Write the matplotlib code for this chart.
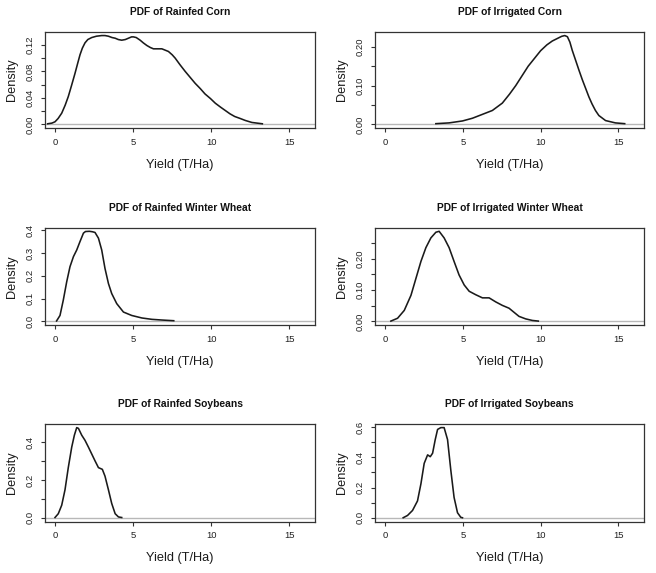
import matplotlib
matplotlib.use("Agg")
import matplotlib.pyplot as plt
from matplotlib import font_manager
from matplotlib.transforms import ScaledTranslation
from matplotlib.ticker import FixedLocator, FuncFormatter

# ---------------- data ----------------
titles = ["PDF of Rainfed Corn", "PDF of Irrigated Corn",
          "PDF of Rainfed Winter Wheat", "PDF of Irrigated Winter Wheat",
          "PDF of Rainfed Soybeans", "PDF of Irrigated Soybeans"]

rainfed_corn_x = [-0.47, -0.2, 0.0, 0.2, 0.43, 0.65, 0.85, 1.05, 1.28, 1.45, 1.6, 1.75, 1.92, 2.1, 2.35,
                  2.65, 2.99, 3.2, 3.42, 3.65, 3.85, 4.05, 4.27, 4.5, 4.7, 4.9, 5.02, 5.2, 5.45, 5.65,
                  5.88, 6.1, 6.3, 6.55, 6.84, 7.05, 7.26, 7.5, 7.69, 8.0, 8.33, 8.65, 8.97, 9.3, 9.6,
                  9.95, 10.26, 10.6, 10.9, 11.2, 11.5, 11.85, 12.18, 12.6, 13.27]
rainfed_corn_y = [0.001, 0.002, 0.004, 0.009, 0.017, 0.029, 0.042, 0.058, 0.077, 0.092, 0.105, 0.115,
                  0.123, 0.128, 0.131, 0.133, 0.134, 0.134, 0.133, 0.131, 0.130, 0.128, 0.127, 0.128,
                  0.130, 0.132, 0.132, 0.131, 0.127, 0.123, 0.119, 0.116, 0.114, 0.114, 0.114, 0.112,
                  0.110, 0.105, 0.100, 0.090, 0.080, 0.071, 0.062, 0.054, 0.046, 0.039, 0.032, 0.026,
                  0.021, 0.016, 0.012, 0.009, 0.006, 0.003, 0.001]

irrigated_corn_x = [3.27, 4.12, 4.98, 5.62, 6.26, 6.9, 7.54, 8.0, 8.4, 8.8, 9.2, 9.6, 10.0, 10.4, 10.75,
                    11.1, 11.35, 11.55, 11.72, 11.88, 12.03, 12.25, 12.46, 12.68, 12.9, 13.1, 13.3,
                    13.52, 13.74, 14.17, 14.8, 15.4]
irrigated_corn_y = [0.002, 0.004, 0.009, 0.016, 0.026, 0.036, 0.055, 0.078, 0.100, 0.125, 0.150, 0.170,
                    0.190, 0.205, 0.215, 0.222, 0.227, 0.229, 0.226, 0.212, 0.191, 0.165, 0.140, 0.115,
                    0.092, 0.071, 0.053, 0.036, 0.023, 0.010, 0.004, 0.002]

rainfed_wheat_x = [0.1, 0.32, 0.53, 0.75, 0.96, 1.18, 1.39, 1.6, 1.82, 1.95, 2.2, 2.4, 2.56, 2.78, 2.99,
                   3.2, 3.42, 3.63, 3.95, 4.38, 4.91, 5.56, 6.2, 6.84, 7.6]
rainfed_wheat_y = [0.002, 0.026, 0.093, 0.174, 0.240, 0.284, 0.313, 0.350, 0.387, 0.394, 0.395, 0.393,
                   0.390, 0.365, 0.313, 0.232, 0.166, 0.122, 0.078, 0.041, 0.026, 0.015, 0.009, 0.006,
                   0.003]

irrigated_wheat_x = [0.38, 0.81, 1.24, 1.67, 1.99, 2.31, 2.63, 2.95, 3.27, 3.48, 3.8, 4.12, 4.44, 4.76,
                     5.09, 5.41, 5.83, 6.26, 6.69, 7.12, 7.54, 7.97, 8.29, 8.61, 9.04, 9.47, 9.85]
irrigated_wheat_y = [0.001, 0.010, 0.035, 0.083, 0.137, 0.191, 0.235, 0.266, 0.284, 0.287, 0.266, 0.235,
                     0.191, 0.148, 0.116, 0.096, 0.085, 0.075, 0.075, 0.062, 0.051, 0.042, 0.029, 0.016,
                     0.008, 0.003, 0.001]

rainfed_soy_x = [0.0, 0.21, 0.43, 0.64, 0.85, 1.07, 1.24, 1.39, 1.5, 1.71, 1.92, 2.14, 2.35, 2.56, 2.78,
                 3.03, 3.2, 3.42, 3.63, 3.85, 4.06, 4.27]
rainfed_soy_y = [0.002, 0.022, 0.067, 0.148, 0.265, 0.373, 0.436, 0.476, 0.472, 0.436, 0.409, 0.373,
                 0.337, 0.301, 0.265, 0.256, 0.220, 0.148, 0.076, 0.022, 0.005, 0.002]

irrigated_soy_x = [1.17, 1.45, 1.77, 2.09, 2.31, 2.52, 2.74, 2.91, 3.06, 3.23, 3.38, 3.59, 3.8, 4.02,
                   4.23, 4.44, 4.66, 4.87, 4.98]
irrigated_soy_y = [0.001, 0.016, 0.049, 0.112, 0.225, 0.360, 0.416, 0.404, 0.427, 0.517, 0.584, 0.596,
                   0.596, 0.517, 0.315, 0.135, 0.034, 0.004, 0.001]

series = [(rainfed_corn_x, rainfed_corn_y), (irrigated_corn_x, irrigated_corn_y),
          (rainfed_wheat_x, rainfed_wheat_y), (irrigated_wheat_x, irrigated_wheat_y),
          (rainfed_soy_x, rainfed_soy_y), (irrigated_soy_x, irrigated_soy_y)]

x_ticks = [0, 5, 10, 15]
x_range = (0, 16)
# (tick step, label step, decimals) of the y axes
y_tick_specs = [(0.02, 0.04, 2), (0.05, 0.10, 2), (0.1, 0.1, 1),
                (0.05, 0.10, 2), (0.1, 0.2, 1), (0.1, 0.2, 1)]
x_label = "Yield (T/Ha)"
y_label = "Density"

# ---------------- fonts ----------------
names = {f.name for f in font_manager.fontManager.ttflist}
if "Liberation Sans Narrow" in names:
    title_font = dict(family="Liberation Sans Narrow", fontsize=8.6, fontweight="bold")
else:
    title_font = dict(family="Liberation Sans", fontsize=7.4, fontweight="bold")
base_family = "Liberation Sans" if "Liberation Sans" in names else "DejaVu Sans"

# ---------------- figure ----------------
W, H = 656, 573
fig = plt.figure(figsize=(W / 100, H / 100), dpi=100)

cols = [(45, 315), (375, 644)]
rows = [(32, 128), (227.7, 325), (424, 521.5)]

for i, ((xs, ys), title, spec) in enumerate(zip(series, titles, y_tick_specs)):
    r, c = divmod(i, 2)
    l, rr = cols[c]
    t, b = rows[r]
    ax = fig.add_axes([l / W, 1 - b / H, (rr - l) / W, (b - t) / H])

    ax.axhline(0, color="#b8b8b8", lw=1.0, zorder=1)
    ax.plot(xs, ys, color="#1a1a1a", lw=1.15, zorder=2)

    pad = 0.04 * (x_range[1] - x_range[0])
    ax.set_xlim(x_range[0] - pad, x_range[1] + pad)
    ymax = max(ys)
    ytop = 1.04 * ymax
    ax.set_ylim(-0.04 * ymax, ytop)

    step, lstep, dec = spec
    n = int(ytop / step + 1e-9)
    ticks = [k * step for k in range(n + 1)]
    ax.yaxis.set_major_locator(FixedLocator(ticks))
    ratio = int(round(lstep / step))

    def fmt(v, pos, dec=dec, step=step, ratio=ratio):
        k = int(round(v / step))
        return f"{v:.{dec}f}" if k % ratio == 0 else ""
    ax.yaxis.set_major_formatter(FuncFormatter(fmt))
    ax.xaxis.set_major_locator(FixedLocator(x_ticks))

    for s in ax.spines.values():
        s.set_color("#333333")
        s.set_linewidth(0.9)
    ax.tick_params(axis="both", length=3.2, width=0.8, color="#333333",
                   labelsize=6.8, labelcolor="#222222", pad=4.0)
    ax.tick_params(axis="y", labelrotation=90)
    for lab in ax.get_yticklabels():
        lab.set_va("center")
        lab.set_family(base_family)
    for lab in ax.get_xticklabels():
        lab.set_family(base_family)

    ax.set_xlabel(x_label, family=base_family, fontsize=9.2, color="#1a1a1a", va="center")
    ax.xaxis.set_label_coords(0.5, -37 / (b - t))
    ax.set_ylabel(y_label, family=base_family, fontsize=9.2, color="#1a1a1a", va="center")
    ax.yaxis.set_label_coords(-33 / (rr - l), 0.5)

    ax.text(0.5, 1.0, title, ha="center", va="center", color="#111111",
            transform=ax.transAxes + ScaledTranslation(0, 20 / 100, fig.dpi_scale_trans),
            **title_font)

fig.savefig("out.png", dpi=100)
